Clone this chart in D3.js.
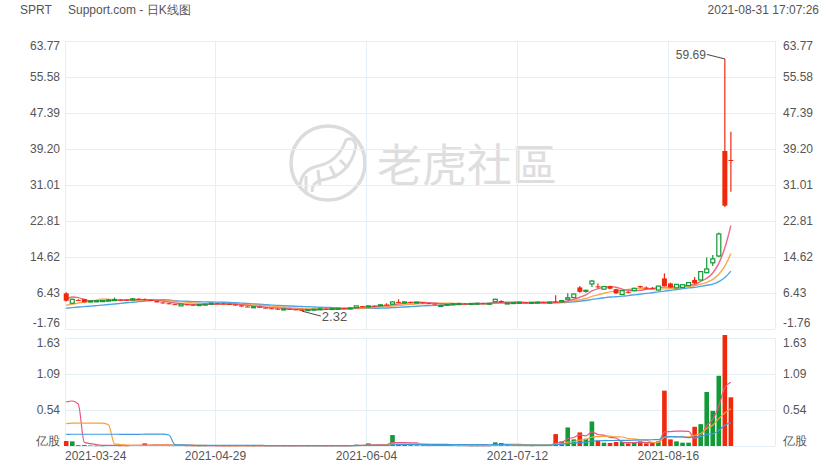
<!DOCTYPE html>
<html><head><meta charset="utf-8">
<script src="https://cdn.jsdelivr.net/npm/d3@7"></script>
<style>body{margin:0;background:#fff}svg{display:block}</style>
</head><body><svg id="c" width="840" height="470"></svg>
<script>
const dates = ["2021-03-24","2021-03-25","2021-03-26","2021-03-29","2021-03-30","2021-03-31",
"2021-04-01","2021-04-05","2021-04-06","2021-04-07","2021-04-08","2021-04-09","2021-04-12","2021-04-13","2021-04-14","2021-04-15","2021-04-16","2021-04-19","2021-04-20","2021-04-21","2021-04-22","2021-04-23","2021-04-26","2021-04-27","2021-04-28","2021-04-29","2021-04-30",
"2021-05-03","2021-05-04","2021-05-05","2021-05-06","2021-05-07","2021-05-10","2021-05-11","2021-05-12","2021-05-13","2021-05-14","2021-05-17","2021-05-18","2021-05-19","2021-05-20","2021-05-21","2021-05-24","2021-05-25","2021-05-26","2021-05-27","2021-05-28",
"2021-06-01","2021-06-02","2021-06-03","2021-06-04","2021-06-07","2021-06-08","2021-06-09","2021-06-10","2021-06-11","2021-06-14","2021-06-15","2021-06-16","2021-06-17","2021-06-18","2021-06-21","2021-06-22","2021-06-23","2021-06-24","2021-06-25","2021-06-28","2021-06-29","2021-06-30",
"2021-07-01","2021-07-02","2021-07-06","2021-07-07","2021-07-08","2021-07-09","2021-07-12","2021-07-13","2021-07-14","2021-07-15","2021-07-16","2021-07-19","2021-07-20","2021-07-21","2021-07-22","2021-07-23","2021-07-26","2021-07-27","2021-07-28","2021-07-29","2021-07-30",
"2021-08-02","2021-08-03","2021-08-04","2021-08-05","2021-08-06","2021-08-09","2021-08-10","2021-08-11","2021-08-12","2021-08-13","2021-08-16","2021-08-17","2021-08-18","2021-08-19","2021-08-20","2021-08-23","2021-08-24","2021-08-25","2021-08-26","2021-08-27","2021-08-30"];

const open = [6.35,4.10,4.85,5.05,4.40,4.60,4.65,4.70,4.85,4.95,4.90,4.85,5.10,5.00,4.85,4.60,4.30,4.10,3.90,3.50,
3.85,3.75,3.70,3.80,3.95,4.10,4.05,3.95,3.80,3.60,3.35,3.25,3.30,3.10,2.95,2.85,2.70,2.80,2.70,2.60,
2.50,2.65,2.75,2.85,2.80,2.90,2.95,2.90,3.10,3.45,3.35,3.55,3.50,3.80,3.90,4.40,4.30,4.40,4.30,4.30,
4.10,4.00,3.50,3.65,3.85,4.00,4.05,4.00,4.05,4.10,4.05,4.45,4.60,4.05,4.15,4.25,4.30,4.25,4.30,4.35,
4.30,4.50,4.40,5.00,5.40,7.70,6.85,8.50,7.95,7.30,8.00,7.30,6.10,6.70,6.96,8.00,7.65,7.60,7.10,9.75,
8.60,7.60,7.70,8.10,9.40,9.40,11.05,13.30,14.85,38.74,36.70];
const high = [6.60,5.10,5.00,5.10,4.70,4.75,4.80,5.00,5.40,5.00,5.00,5.30,5.25,5.20,4.90,4.65,4.35,4.15,3.95,3.95,
3.90,3.80,3.85,3.95,4.15,4.20,4.10,4.00,3.85,3.65,3.45,3.35,3.35,3.15,3.00,2.90,2.85,2.85,2.75,2.65,
2.70,2.80,2.90,2.95,2.95,3.00,3.05,3.10,3.55,3.50,3.60,3.60,3.80,4.10,4.50,5.00,4.45,4.50,4.40,4.35,
4.15,4.05,3.65,3.90,4.05,4.10,4.15,4.10,4.15,4.20,4.15,5.10,4.80,4.20,4.30,4.35,4.40,4.35,4.40,4.45,
4.40,5.90,4.75,6.40,6.30,8.00,7.10,9.40,8.60,8.00,8.10,7.40,7.10,6.90,7.60,8.10,7.90,7.80,8.10,10.90,
8.80,8.50,8.40,8.90,10.10,11.40,14.50,15.10,20.20,59.69,43.13];
const low = [4.50,4.00,4.60,4.25,4.35,4.50,4.55,4.65,4.80,4.80,4.80,4.85,4.90,4.80,4.60,4.25,4.00,3.85,3.70,3.45,
3.70,3.65,3.65,3.75,3.90,4.00,3.90,3.80,3.60,3.30,3.25,3.20,3.10,2.90,2.80,2.70,2.65,2.65,2.55,2.32,
2.45,2.60,2.70,2.75,2.75,2.85,2.85,2.85,3.05,3.25,3.30,3.45,3.45,3.65,3.85,4.20,4.20,4.25,4.20,4.05,
3.95,3.85,3.45,3.60,3.80,3.90,3.95,3.95,4.00,4.00,4.00,4.40,4.25,4.00,4.10,4.15,4.20,4.20,4.25,4.25,
4.25,4.30,4.35,4.90,5.30,6.50,6.50,7.80,7.50,7.20,7.30,6.20,6.00,6.40,6.90,7.60,7.40,7.40,7.00,7.90,
7.60,7.50,7.60,8.00,8.50,9.30,10.90,12.60,14.55,26.00,29.48];
const close = [4.67,5.00,4.78,4.30,4.60,4.65,4.70,4.85,4.95,4.90,4.85,5.10,4.95,4.85,4.70,4.30,4.10,3.90,3.75,3.90,
3.75,3.70,3.80,3.90,4.10,4.05,3.95,3.85,3.65,3.35,3.30,3.30,3.15,2.95,2.85,2.80,2.80,2.70,2.60,2.50,
2.65,2.75,2.85,2.80,2.90,2.95,2.90,3.05,3.50,3.30,3.50,3.50,3.75,3.70,4.40,4.30,4.40,4.30,4.35,4.10,
4.00,3.90,3.60,3.85,4.00,4.05,4.00,4.05,4.10,4.05,4.10,5.00,4.30,4.15,4.25,4.30,4.25,4.30,4.35,4.30,
4.35,4.40,4.70,5.35,6.20,6.70,7.05,9.15,7.90,7.90,7.40,6.35,6.96,6.65,7.50,7.70,7.60,7.55,8.00,8.00,
7.70,8.40,8.30,8.80,8.65,11.30,11.90,14.20,19.86,26.30,36.55];
const volume = [0.075,0.070,0.012,0.014,0.008,0.006,0.006,0.010,0.012,0.006,0.005,0.010,0.012,0.040,0.010,0.012,0.010,0.008,0.008,0.010,
0.006,0.005,0.005,0.006,0.008,0.006,0.005,0.005,0.006,0.008,0.006,0.005,0.006,0.008,0.007,0.006,0.006,0.005,0.006,0.008,
0.006,0.006,0.006,0.005,0.006,0.006,0.006,0.008,0.020,0.012,0.040,0.015,0.018,0.020,0.165,0.030,0.015,0.012,0.010,0.010,
0.008,0.010,0.012,0.010,0.008,0.006,0.006,0.005,0.005,0.006,0.006,0.055,0.045,0.015,0.010,0.008,0.008,0.006,0.008,0.008,
0.012,0.180,0.070,0.280,0.100,0.205,0.110,0.370,0.080,0.050,0.045,0.060,0.060,0.040,0.050,0.070,0.040,0.045,0.070,0.835,
0.100,0.070,0.050,0.050,0.290,0.330,0.815,0.530,1.060,1.675,0.735];
// sessions before the first shown day (used only for moving averages)
const priorClose = [2.25,2.30,2.35,2.30,2.28,2.32,2.30,2.26,2.30,2.34,2.30,2.28,2.30,2.32,2.35,2.30,5.50,6.50,5.90];
const priorVolume = [0.01,0.01,0.01,0.01,0.01,0.01,0.01,0.01,0.01,0.01,0.01,0.01,0.01,0.01,0.01,0.01,0.25,2.90,0.10];

const priceTicks = [-1.76,6.43,14.62,22.81,31.01,39.20,47.39,55.58,63.77];
const volumeTicks = [0,0.54,1.09,1.63];
const volumeUnit = "亿股";
const dateTicks = ["2021-03-24","2021-04-29","2021-06-04","2021-07-12","2021-08-16"];
const maPeriods = [5,10,20];
const symbol = "SPRT";
const title = "Support.com - 日K线图";
const timestamp = "2021-08-31 17:07:26";

const RED = "#f0290c", GREEN = "#119a35";
const maColors = ["#e8567c","#f7a13a","#3c9ae0"];
const GRID = "#e4f0f5", TXT = "#555";
const FONT = "'Liberation Sans', Arial, sans-serif";

const svg = d3.select("#c");
const L = 65, R = 775, PT = 41, PB = 329, VT = 338, VB = 446;
const n = dates.length;
const x = d3.scaleLinear().domain([-0.2, 117.3]).range([L, R]);
const y = d3.scaleLinear().domain([priceTicks[0], priceTicks[priceTicks.length-1]]).range([PB, PT]);
const yv = d3.scaleLinear().domain([0, volumeTicks[volumeTicks.length-1]]).range([VB, VT]);
const idx = d3.range(n);

// header
const hdr = svg.append("g").attr("font-family", FONT).attr("font-size", 12).attr("fill", TXT);
hdr.append("text").attr("x", 20).attr("y", 14).text(symbol);
hdr.append("text").attr("x", 68).attr("y", 14).text(title);
hdr.append("text").attr("x", 819).attr("y", 14).attr("text-anchor", "end").text(timestamp);

// watermark
const wm = svg.append("g").attr("fill", "none").attr("stroke", "#dcdcdc");
wm.append("circle").attr("cx", 328).attr("cy", 163).attr("r", 37).attr("stroke-width", 3.5);
wm.append("path").attr("stroke-width", 3)
  .attr("d", "M300,188 Q300,170 318,166 Q338,162 346,140 Q354,136 356,146 Q350,176 322,180 Q312,182 312,192");
wm.append("path").attr("stroke-width", 3)
  .attr("d", "M306,176 L306,192 M318,170 L320,186 M330,166 L336,178 M340,160 L348,168");
svg.append("text").attr("x", 377).attr("y", 182).attr("font-family", "'Noto Sans CJK SC', sans-serif")
  .attr("font-size", 45).attr("fill", "#dedede").text("老虎社區");

// grid
const grid = svg.append("g").attr("stroke", GRID).attr("stroke-width", 1).attr("shape-rendering", "crispEdges");
priceTicks.forEach(t => grid.append("line").attr("x1", L).attr("x2", R).attr("y1", Math.round(y(t))+0.5).attr("y2", Math.round(y(t))+0.5));
volumeTicks.forEach(t => grid.append("line").attr("x1", L).attr("x2", R).attr("y1", Math.round(yv(t))+0.5).attr("y2", Math.round(yv(t))+0.5));
[L, R].forEach(xx => {
  grid.append("line").attr("x1", xx+0.5).attr("x2", xx+0.5).attr("y1", PT).attr("y2", PB);
  grid.append("line").attr("x1", xx+0.5).attr("x2", xx+0.5).attr("y1", VT).attr("y2", VB);
});
const gridX = d => Math.round(x(dates.indexOf(d)) - 2) + 0.5;
dateTicks.slice(1).forEach(d => {
  grid.append("line").attr("x1", gridX(d)).attr("x2", gridX(d)).attr("y1", PT).attr("y2", PB);
  grid.append("line").attr("x1", gridX(d)).attr("x2", gridX(d)).attr("y1", VT).attr("y2", VB);
});

// axis labels
const ax = svg.append("g").attr("font-family", FONT).attr("font-size", 12).attr("fill", TXT);
priceTicks.forEach((t, i) => {
  const off = i === priceTicks.length-1 ? 5 : (i === 0 ? -6 : 0);
  const lab = t.toFixed(2);
  ax.append("text").attr("x", 60).attr("y", y(t)+off).attr("dy", "0.35em").attr("text-anchor", "end").text(lab);
  ax.append("text").attr("x", 783).attr("y", y(t)+off).attr("dy", "0.35em").text(lab);
});
volumeTicks.forEach((t, i) => {
  const off = i === volumeTicks.length-1 ? 5 : (i === 0 ? -5 : 0);
  const lab = t === 0 ? volumeUnit : t.toFixed(2);
  ax.append("text").attr("x", 60).attr("y", yv(t)+off).attr("dy", "0.35em").attr("text-anchor", "end").text(lab);
  ax.append("text").attr("x", 783).attr("y", yv(t)+off).attr("dy", "0.35em").text(lab);
});
dateTicks.forEach((d, i) => {
  ax.append("text").attr("x", i === 0 ? L : gridX(d)).attr("y", 456).attr("dy", "0.35em")
    .attr("text-anchor", i === 0 ? "start" : "middle").text(d);
});

// moving averages
function ma(prior, series, p) {
  const all = prior.concat(series), off = prior.length;
  return series.map((_, i) => d3.mean(all.slice(off + i - p + 1, off + i + 1)));
}
const priceMA = maPeriods.map(p => ma(priorClose, close, p));
const volMA = maPeriods.map(p => ma(priorVolume, volume, p));

// volume bars
const bw = 4.6;
svg.append("g").selectAll("rect").data(idx).join("rect")
  .attr("x", i => x(i) - bw/2).attr("width", bw)
  .attr("y", i => yv(volume[i])).attr("height", i => Math.max(0.6, VB - yv(volume[i])))
  .attr("fill", i => close[i] >= open[i] ? GREEN : RED);

// volume MA lines
const vline = d3.line().x(i => x(i)).curve(d3.curveMonotoneX);
volMA.forEach((m, k) => {
  svg.append("path").attr("fill", "none").attr("stroke", maColors[k]).attr("stroke-width", 1.2)
    .attr("d", vline.y(i => yv(m[i]))(idx));
});

// price MA lines
const pline = d3.line().x(i => x(i)).curve(d3.curveMonotoneX);
priceMA.slice().reverse().forEach((m, kk) => {
  const k = maPeriods.length - 1 - kk;
  svg.append("path").attr("fill", "none").attr("stroke", maColors[k]).attr("stroke-width", 1.4).attr("opacity", 0.9)
    .attr("d", pline.y(i => y(m[i]))(idx));
});

// candles
const cg = svg.append("g");
idx.forEach(i => {
  const up = close[i] >= open[i];
  const col = up ? GREEN : RED;
  const cx = x(i);
  cg.append("line").attr("x1", cx).attr("x2", cx).attr("y1", y(high[i])).attr("y2", y(low[i]))
    .attr("stroke", col).attr("stroke-width", 1.2);
  const top = y(Math.max(open[i], close[i])), bot = y(Math.min(open[i], close[i]));
  const h = Math.max(1, bot - top);
  if (up) {
    cg.append("rect").attr("x", cx - 2).attr("y", top).attr("width", 4).attr("height", h)
      .attr("fill", "#fff").attr("stroke", col).attr("stroke-width", 1.2);
  } else {
    cg.append("rect").attr("x", cx - 2.5).attr("y", top).attr("width", 5).attr("height", h).attr("fill", col);
  }
});

// high / low annotations
const hi = d3.maxIndex(high), lo = d3.minIndex(low);
const ann = svg.append("g").attr("font-family", FONT).attr("font-size", 12).attr("fill", TXT);
const hx = x(hi), hy = y(high[hi]);
svg.append("polyline").attr("fill", "none").attr("stroke", "#444").attr("stroke-width", 1)
  .attr("points", `${hx-18},${hy-4.5} ${hx-8},${hy-2} ${hx},${hy}`);
ann.append("text").attr("x", hx - 19).attr("y", hy - 4.5).attr("dy", "0.35em").attr("text-anchor", "end").text(high[hi].toFixed(2));
const lx = x(lo), ly = y(low[lo]);
svg.append("line").attr("stroke", "#444").attr("stroke-width", 1)
  .attr("x1", lx).attr("y1", ly).attr("x2", lx + 19).attr("y2", ly + 5);
ann.append("text").attr("x", lx + 20).attr("y", ly + 5.5).attr("dy", "0.35em").attr("font-size", 13).text(low[lo].toFixed(2));
</script></body></html>
